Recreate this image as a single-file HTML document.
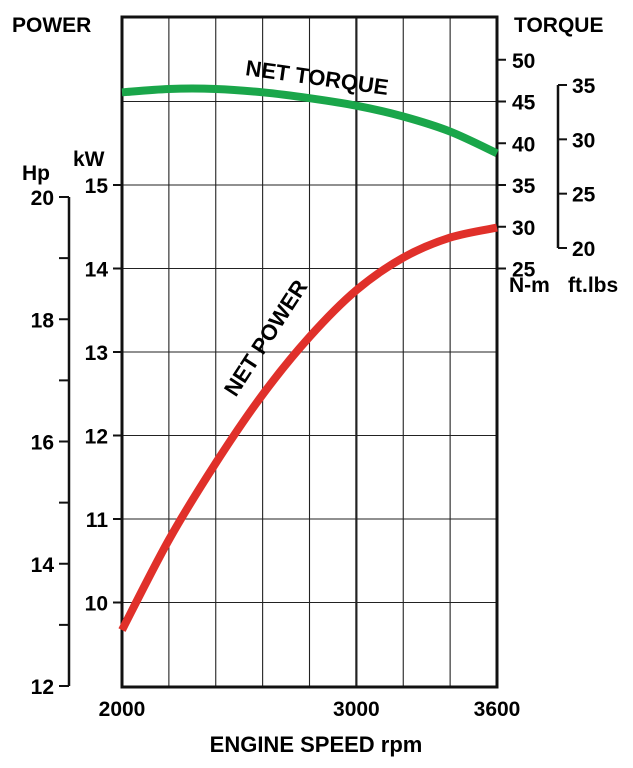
<!DOCTYPE html>
<html><head><meta charset="utf-8"><style>
html,body{margin:0;padding:0;background:#fff;}
svg{display:block;font-family:"Liberation Sans",Arial,sans-serif;font-weight:bold;}
</style></head><body>
<svg id="chart" width="633" height="768" viewBox="0 0 633 768">
<g id="grid"></g>
<g id="axes"></g>
<g id="series"></g>
<g id="labels"></g>
</svg>
<script>
const rpmValues=[2000,2200,2400,2600,2800,3000,3200,3400,3600];
const torqueNm=[46.1,46.5,46.5,46.1,45.4,44.5,43.2,41.4,38.8];
const powerKw=[9.67,10.75,11.67,12.49,13.18,13.74,14.13,14.37,14.49];
const rpmTicks=[2000,3000,3600];
const kwTicks=[10,11,12,13,14,15];
const nmTicks=[25,30,35,40,45,50];
const ftlbTicks=[20,25,30,35];
const hpTicks=[12,14,16,18,20];
const hpMinor=[13,15,17,19];

const X0=122,X1=497,R0=2000,R1=3600;
const xs=r=>X0+(r-R0)*(X1-X0)/(R1-R0);
const yKw=k=>185-(k-15)*83.5;
const yNm=n=>185-(n-35)*8.35;
const yFt=f=>248-(f-20)*(248-85)/15;
const yHp=h=>686-(h-12)*(686-197)/8;
const NS="http://www.w3.org/2000/svg";
function mk(parent,tag,attrs,text){const e=document.createElementNS(NS,tag);for(const k in attrs)e.setAttribute(k,attrs[k]);if(text!==undefined)e.textContent=text;document.getElementById(parent).appendChild(e);return e;}

for(let r=2200;r<3600;r+=200){
  const l=mk('grid','line',{x1:xs(r),x2:xs(r),y1:17,y2:687,stroke:'#222','stroke-width':r===3000?2.2:1.1});
  
  
}
for(let k=10;k<=16;k++){
  const l=mk('grid','line',{x1:X0,x2:X1,y1:yKw(k),y2:yKw(k),stroke:'#222','stroke-width':1.1});
  
  
}
mk('axes','rect',{x:X0,y:17,width:X1-X0,height:670,fill:'none',stroke:'#111','stroke-width':3});
kwTicks.forEach(k=>{
  mk('axes','line',{x1:113,x2:X0,y1:yKw(k),y2:yKw(k),stroke:'#111','stroke-width':2});
  const t=mk('labels','text',{x:108,y:yKw(k)+8,'text-anchor':'end','font-size':21},k);
  
  
});
nmTicks.forEach(n=>{
  mk('axes','line',{x1:X1,x2:506,y1:yNm(n),y2:yNm(n),stroke:'#111','stroke-width':2});
  const t=mk('labels','text',{x:512,y:yNm(n)+8,'font-size':21},n);
  
  
});
mk('axes','line',{x1:558,x2:558,y1:yFt(35),y2:yFt(20),stroke:'#111','stroke-width':2.5});
ftlbTicks.forEach(f=>{
  mk('axes','line',{x1:558,x2:567,y1:yFt(f),y2:yFt(f),stroke:'#111','stroke-width':2});
  const t=mk('labels','text',{x:572,y:yFt(f)+8,'font-size':21},f);
  
  
});
mk('axes','line',{x1:69,x2:69,y1:yHp(20),y2:yHp(12),stroke:'#111','stroke-width':2.5});
hpTicks.forEach(h=>{
  mk('axes','line',{x1:59,x2:69,y1:yHp(h),y2:yHp(h),stroke:'#111','stroke-width':2});
  const t=mk('labels','text',{x:54,y:yHp(h)+8,'text-anchor':'end','font-size':21},h);
  
  
});
hpMinor.forEach(h=>{mk('axes','line',{x1:59,x2:69,y1:yHp(h),y2:yHp(h),stroke:'#111','stroke-width':2});});
rpmTicks.forEach(r=>{
  const t=mk('labels','text',{x:xs(r),y:716,'text-anchor':'middle','font-size':21},r);
  
  
});

function smooth(pts){
  let d='M'+pts[0][0]+','+pts[0][1];
  for(let i=0;i<pts.length-1;i++){
    const p0=pts[i-1]||pts[i],p1=pts[i],p2=pts[i+1],p3=pts[i+2]||p2;
    const c1=[p1[0]+(p2[0]-p0[0])/6,p1[1]+(p2[1]-p0[1])/6];
    const c2=[p2[0]-(p3[0]-p1[0])/6,p2[1]-(p3[1]-p1[1])/6];
    d+=' C'+c1+' '+c2+' '+p2;
  }
  return d;
}
const tq=mk('series','path',{d:smooth(rpmValues.map((r,i)=>[xs(r),yNm(torqueNm[i])])),fill:'none',stroke:'#1aa64a','stroke-width':8});


const pw=mk('series','path',{d:smooth(rpmValues.map((r,i)=>[xs(r),yKw(powerKw[i])])),fill:'none',stroke:'#e0302a','stroke-width':8});


</script>
<script>
(function(){
const g=document.getElementById('labels');
const items=[
 ['power-title',12,32,21,'start','POWER'],
 ['torque-title',514,32,21,'start','TORQUE'],
 ['hp-unit',22,180,21,'start','Hp'],
 ['kw-unit',73,166,21,'start','kW'],
 ['nm-unit',509,292,21,'start','N-m'],
 ['ftlb-unit',568,292,21,'start','ft.lbs'],
 ['x-axis-title',316,752,22,'middle','ENGINE SPEED rpm']
];
items.forEach(it=>{
 const t=document.createElementNS('http://www.w3.org/2000/svg','text');
 t.setAttribute('x',it[1]);t.setAttribute('y',it[2]);t.setAttribute('font-size',it[3]);t.setAttribute('text-anchor',it[4]);
 t.textContent=it[5];
 
 
 g.appendChild(t);
});
const a=document.createElementNS('http://www.w3.org/2000/svg','text');
a.setAttribute('transform','translate(316,85) rotate(8)');a.setAttribute('text-anchor','middle');a.setAttribute('font-size',22);
a.textContent='NET TORQUE';


g.appendChild(a);
const b=document.createElementNS('http://www.w3.org/2000/svg','text');
b.setAttribute('transform','translate(272,342) rotate(-57)');b.setAttribute('text-anchor','middle');b.setAttribute('font-size',22);
b.textContent='NET POWER';


g.appendChild(b);
})();
</script>
</body></html>
